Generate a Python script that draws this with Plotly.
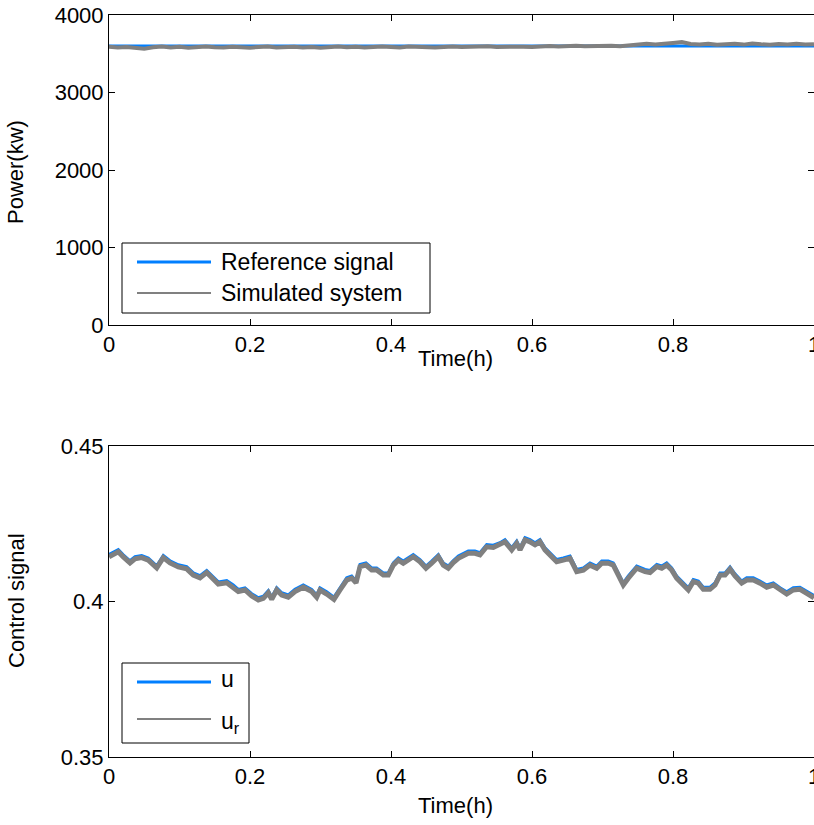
import plotly.graph_objects as go

# ---------------- data ----------------
# Top panel: power (kW)
t_power = [round(i * 0.0125, 4) for i in range(81)]
reference_power = [3600] * 81
simulated_power = [
    3590, 3580, 3588, 3576, 3565, 3584, 3592, 3582, 3590, 3578,
    3588, 3594, 3584, 3580, 3590, 3586, 3578, 3588, 3592, 3580,
    3586, 3590, 3582, 3588, 3576, 3586, 3592, 3584, 3590, 3580,
    3588, 3594, 3586, 3580, 3592, 3586, 3590, 3582, 3588, 3594,
    3586,
    3590, 3584, 3596, 3588, 3592, 3598, 3590, 3586, 3596, 3600,
    3592, 3598, 3604, 3596, 3600, 3594, 3602, 3598, 3606, 3612,
    3630, 3618, 3624, 3640, 3650, 3626, 3620, 3630, 3616, 3624,
    3628, 3618, 3632, 3622, 3616, 3626, 3620, 3630, 3618, 3624,
]

# Bottom panel: control signal
t_ctrl = [
    0.0, 0.0132, 0.0199, 0.0298, 0.0369, 0.0464, 0.0557, 0.0677, 0.0770, 0.0865,
    0.0983, 0.1102, 0.1196, 0.1291, 0.1386, 0.1457, 0.1550, 0.1670, 0.1763, 0.1834,
    0.1929, 0.2024, 0.2118, 0.2189, 0.2260, 0.2308, 0.2379, 0.2450, 0.2543, 0.2638,
    0.2756, 0.2875, 0.2946, 0.2993, 0.3088, 0.3191, 0.3277, 0.3372, 0.3443, 0.3504,
    0.3560, 0.3645, 0.3726, 0.3797, 0.3891, 0.3962, 0.4033, 0.4104, 0.4174, 0.4245,
    0.4316, 0.4411, 0.4496, 0.4577, 0.4671, 0.4742, 0.4813, 0.4884, 0.4955, 0.5096,
    0.5191, 0.5262, 0.5357, 0.5451, 0.5546, 0.5617, 0.5712, 0.5783, 0.5830, 0.5901,
    0.5972, 0.6043, 0.6113, 0.6184, 0.6279, 0.6350, 0.6444, 0.6539, 0.6634, 0.6728,
    0.6823, 0.6918, 0.6989, 0.7082, 0.7153, 0.7224, 0.7295, 0.7366, 0.7485, 0.7603,
    0.7674, 0.7769, 0.7840, 0.7911, 0.7982, 0.8052, 0.8146, 0.8217, 0.8288, 0.8359,
    0.8430, 0.8525, 0.8596, 0.8667, 0.8738, 0.8809, 0.8879, 0.8974, 0.9045, 0.9139,
    0.9234, 0.9329, 0.9423, 0.9518, 0.9613, 0.9706, 0.9801, 0.9896, 0.9967, 1.0,
]
u_vals = [
    0.4151, 0.4167, 0.4151, 0.4131, 0.4144, 0.4148, 0.4140, 0.4115, 0.4148, 0.4131,
    0.4118, 0.4112, 0.4092, 0.4083, 0.4100, 0.4083, 0.4063, 0.4067, 0.4053, 0.4039,
    0.4044, 0.4025, 0.4012, 0.4017, 0.4035, 0.4014, 0.4044, 0.4028, 0.4021, 0.4039,
    0.4053, 0.4039, 0.4021, 0.4044, 0.4031, 0.4014, 0.4044, 0.4076, 0.4082, 0.4067,
    0.4119, 0.4124, 0.4108, 0.4108, 0.4092, 0.4092, 0.4124, 0.4140, 0.4130, 0.4140,
    0.4151, 0.4135, 0.4114, 0.4130, 0.4151, 0.4124, 0.4114, 0.4132, 0.4146, 0.4162,
    0.4162, 0.4157, 0.4183, 0.4181, 0.4189, 0.4199, 0.4173, 0.4194, 0.4173, 0.4205,
    0.4199, 0.4189, 0.4199, 0.4173, 0.4151, 0.4135, 0.4140, 0.4146, 0.4103, 0.4108,
    0.4124, 0.4114, 0.4130, 0.4130, 0.4124, 0.4092, 0.4060, 0.4082, 0.4114, 0.4103,
    0.4100, 0.4119, 0.4114, 0.4124, 0.4108, 0.4082, 0.4060, 0.4044, 0.4071, 0.4066,
    0.4046, 0.4046, 0.4060, 0.4092, 0.4092, 0.4111, 0.4089, 0.4066, 0.4076, 0.4076,
    0.4066, 0.4053, 0.4060, 0.4044, 0.4031, 0.4044, 0.4046, 0.4033, 0.4021, 0.4019,
]
ur_vals = [
    0.4144, 0.4160, 0.4144, 0.4124, 0.4137, 0.4141, 0.4133, 0.4108, 0.4141, 0.4124,
    0.4111, 0.4105, 0.4085, 0.4076, 0.4093, 0.4076, 0.4056, 0.4060, 0.4046, 0.4032,
    0.4037, 0.4018, 0.4005, 0.4010, 0.4028, 0.4007, 0.4037, 0.4021, 0.4014, 0.4032,
    0.4046, 0.4032, 0.4014, 0.4037, 0.4024, 0.4007, 0.4037, 0.4069, 0.4075, 0.4060,
    0.4112, 0.4117, 0.4101, 0.4101, 0.4085, 0.4085, 0.4117, 0.4133, 0.4123, 0.4133,
    0.4144, 0.4128, 0.4107, 0.4123, 0.4144, 0.4117, 0.4107, 0.4125, 0.4139, 0.4155,
    0.4155, 0.4150, 0.4176, 0.4174, 0.4182, 0.4192, 0.4166, 0.4187, 0.4166, 0.4198,
    0.4192, 0.4182, 0.4192, 0.4166, 0.4144, 0.4128, 0.4133, 0.4139, 0.4096, 0.4101,
    0.4117, 0.4107, 0.4123, 0.4123, 0.4117, 0.4085, 0.4053, 0.4075, 0.4107, 0.4096,
    0.4093, 0.4112, 0.4107, 0.4117, 0.4101, 0.4075, 0.4053, 0.4037, 0.4064, 0.4059,
    0.4039, 0.4039, 0.4053, 0.4085, 0.4085, 0.4104, 0.4082, 0.4059, 0.4069, 0.4069,
    0.4059, 0.4046, 0.4053, 0.4037, 0.4024, 0.4037, 0.4039, 0.4026, 0.4014, 0.4012,
]

x_ticks = [0, 0.2, 0.4, 0.6, 0.8, 1]
x_ticklabels = ["0", "0.2", "0.4", "0.6", "0.8", "1"]
power_ticks = [0, 1000, 2000, 3000, 4000]
ctrl_ticks = [0.35, 0.4, 0.45]
ctrl_ticklabels = ["0.35", "0.4", "0.45"]

legend_top = ["Reference signal", "Simulated system"]
legend_bottom = ["u", "u<sub>r</sub>"]

# ---------------- style / layout ----------------
W, H = 814, 825
ML, MR, MT, MB = 109, 0, 15, 68
PW, PH = W - ML - MR, H - MT - MB

def px(x):
    return (x - ML) / PW

def py(y):
    return (H - MB - y) / PH

BLUE = "rgb(0,127,255)"
GREY = "rgb(128,128,128)"
FONT = "Liberation Sans, Arial, Helvetica, sans-serif"
FS = 22
FS_LEG = 23

fig = go.Figure()
fig.add_trace(go.Scatter(x=[0, 1], y=[reference_power[0], reference_power[-1]],
                         mode="lines", line=dict(color=BLUE, width=3),
                         xaxis="x", yaxis="y", showlegend=False))
fig.add_trace(go.Scatter(x=t_power, y=simulated_power, mode="lines",
                         line=dict(color=GREY, width=4),
                         xaxis="x", yaxis="y", showlegend=False))
fig.add_trace(go.Scatter(x=t_ctrl, y=u_vals, mode="lines",
                         line=dict(color=BLUE, width=3),
                         xaxis="x2", yaxis="y2", showlegend=False))
fig.add_trace(go.Scatter(x=t_ctrl, y=ur_vals, mode="lines",
                         line=dict(color=GREY, width=5),
                         xaxis="x2", yaxis="y2", showlegend=False))

axis_common = dict(
    showline=True, linecolor="black", linewidth=1, mirror="ticks",
    ticks="inside", ticklen=6, tickwidth=1, tickcolor="black",
    showgrid=False, zeroline=False, automargin=False,
    ticklabeloverflow="allow",
    tickfont=dict(family=FONT, size=FS, color="black"),
)

fig.update_layout(
    template="none",
    width=W, height=H,
    margin=dict(l=ML, r=MR, t=MT, b=MB, pad=0),
    paper_bgcolor="white", plot_bgcolor="white",
    showlegend=False,
    font=dict(family=FONT, size=FS, color="black"),
    xaxis=dict(domain=[0, 1], anchor="y", range=[0, 1], tickvals=x_ticks,
               ticktext=x_ticklabels, **axis_common),
    yaxis=dict(domain=[py(325), 1], anchor="x", range=[0, 4000],
               tickvals=power_ticks, **axis_common),
    xaxis2=dict(domain=[0, 1], anchor="y2", range=[0, 1], tickvals=x_ticks,
                ticktext=x_ticklabels, **axis_common),
    yaxis2=dict(domain=[0, py(446)], anchor="x2", range=[0.35, 0.45],
                tickvals=ctrl_ticks, ticktext=ctrl_ticklabels, **axis_common),
)

shapes = []
annotations = []

def add_text(text, x, y, xanchor="center", angle=0, size=FS):
    annotations.append(dict(text=text, x=px(x), y=py(y), xref="paper", yref="paper",
                            xanchor=xanchor, yanchor="middle", showarrow=False,
                            textangle=angle,
                            font=dict(family=FONT, size=size, color="black")))

# axis titles
add_text("Time(h)", 455, 358)
add_text("Time(h)", 455, 805)
add_text("Power(kw)", 16, 172, angle=-90)
add_text("Control signal", 16, 601, angle=-90)

# manual legends
def legend_box(x0, y0, x1, y1):
    shapes.append(dict(type="rect", xref="paper", yref="paper",
                       x0=px(x0), x1=px(x1), y0=py(y1), y1=py(y0),
                       line=dict(color="black", width=1), fillcolor="white",
                       layer="above"))

def legend_line(y, color, width):
    shapes.append(dict(type="line", xref="paper", yref="paper",
                       x0=px(137), x1=px(211), y0=py(y), y1=py(y),
                       line=dict(color=color, width=width), layer="above"))

legend_box(122, 243, 430, 313)
legend_line(262, BLUE, 3)
legend_line(293, GREY, 2)
add_text(legend_top[0], 219, 262, xanchor="left", size=FS_LEG)
add_text(legend_top[1], 219, 293, xanchor="left", size=FS_LEG)

legend_box(122, 663, 249, 743)
legend_line(682, BLUE, 3)
legend_line(719, GREY, 2)
add_text(legend_bottom[0], 219, 679, xanchor="left", size=FS_LEG)
add_text(legend_bottom[1], 219, 722, xanchor="left", size=FS_LEG)

fig.update_layout(shapes=shapes, annotations=annotations)

fig.write_html("out.html")
